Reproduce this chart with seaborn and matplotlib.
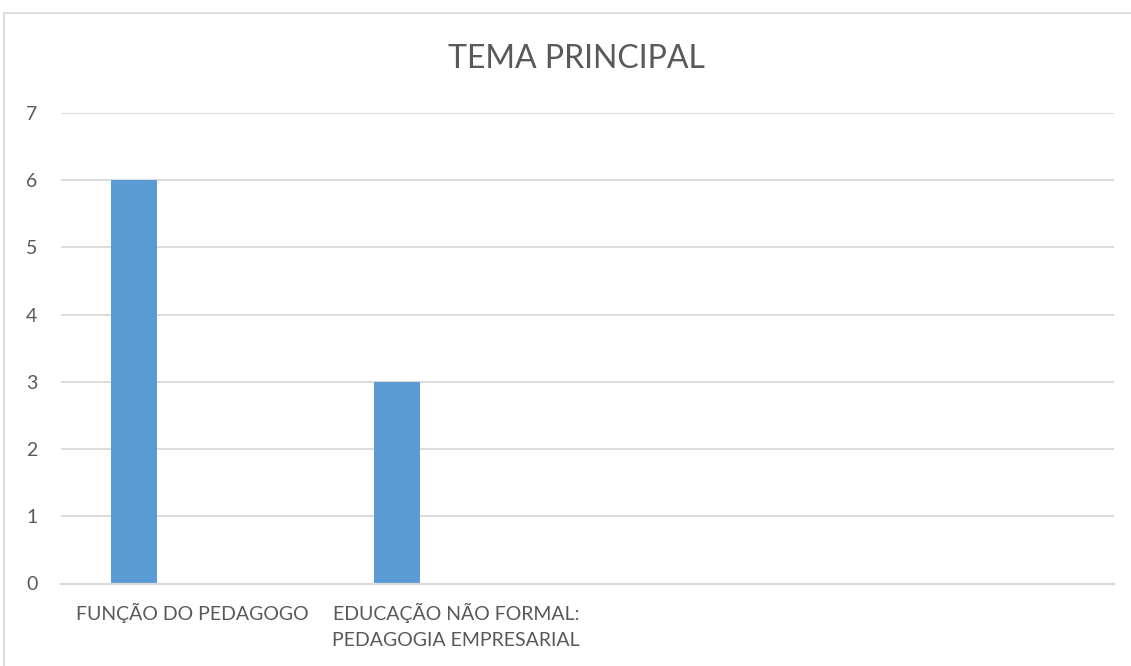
import matplotlib
matplotlib.use("Agg")
import matplotlib.pyplot as plt
from matplotlib.patches import Rectangle
import seaborn as sns
import pandas as pd

categories = ["FUNÇÃO DO PEDAGOGO", "EDUCAÇÃO NÃO FORMAL:\nPEDAGOGIA EMPRESARIAL", "", " "]
values = [6, 3, None, None]
series_names = ["Série1", "Série2", "Série3"]
title = "TEMA PRINCIPAL"
yticks = [0, 1, 2, 3, 4, 5, 6, 7]

sns.set_theme(style="white")
plt.rcParams["font.family"] = ["Lato", "DejaVu Sans"]

TEXT = "#595959"
GRID = "#D9D9D9"
BAR = "#5B9BD5"

df = pd.DataFrame({"cat": categories, "val": values, "serie": series_names[0]}).dropna()

fig = plt.figure(figsize=(11.31, 6.66), dpi=100)
ax = fig.add_axes([61 / 1131, (666 - 583.5) / 666, (1114 - 61) / 1131, (583.5 - 113) / 666])

sns.barplot(data=df, x="cat", y="val", hue="serie", order=categories,
            hue_order=series_names, palette={s: BAR for s in series_names},
            width=0.668, gap=0.207, dodge=True, ax=ax, legend=False,
            saturation=1, linewidth=0)

ax.set_xlim(-0.5, len(categories) - 0.5)
ax.set_ylim(0, 7)
ax.set_yticks(yticks)
ax.set_xlabel("")
ax.set_ylabel("")
ax.grid(axis="y", color=GRID, linewidth=1.3)
ax.set_axisbelow(True)
for s in ["top", "right", "left"]:
    ax.spines[s].set_visible(False)
ax.spines["bottom"].set_color(GRID)
ax.spines["bottom"].set_linewidth(1.6)
ax.tick_params(axis="y", length=0, pad=17, labelsize=14, labelcolor=TEXT)
ax.tick_params(axis="x", length=0, pad=14, labelsize=14, labelcolor=TEXT)
for lbl in ax.get_xticklabels():
    lbl.set_linespacing(1.65)
    lbl.set_horizontalalignment("center")

fig.text(576 / 1131, 1 - 59 / 666, title, ha="center", va="center",
         fontsize=23, color=TEXT)

fig.add_artist(Rectangle((4 / 1131, -0.1), 1.2, 0.1 + (1 - 13 / 666),
                         transform=fig.transFigure, fill=False,
                         edgecolor=GRID, linewidth=1.3))

fig.savefig("out.png", dpi=100, facecolor="white")
